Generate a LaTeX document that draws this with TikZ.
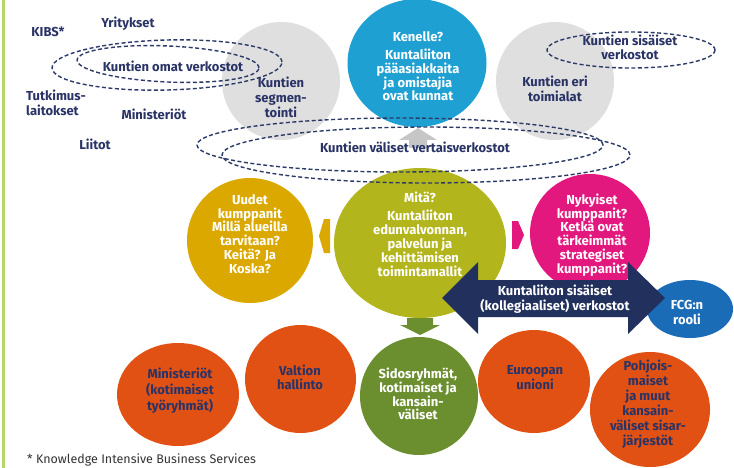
\documentclass[tikz,border=0pt]{standalone}
\usepackage{fontspec}
\setmainfont{Fira Sans}
\usetikzlibrary{shapes.geometric}
\definecolor{navytxt}{HTML}{2A3366}
\definecolor{dashc}{HTML}{2C3A68}
\definecolor{greyc}{HTML}{DFDFDF}
\definecolor{greyarr}{HTML}{C6C6C6}
\definecolor{kblue}{HTML}{1FA0D2}
\definecolor{olive}{HTML}{B3B51C}
\definecolor{gold}{HTML}{DBA800}
\definecolor{magent}{HTML}{E3187F}
\definecolor{arrnavy}{HTML}{22305E}
\definecolor{fcgblue}{HTML}{1B6CB6}
\definecolor{grn}{HTML}{6B8E2F}
\definecolor{orng}{HTML}{E15114}
\definecolor{barc}{HTML}{B4D56B}
\definecolor{footc}{HTML}{333333}
\newcommand\lblfont{\fontsize{13}{13.8}\selectfont\bfseries}
\newcommand\lblwide{\fontsize{13}{15}\selectfont\bfseries}
\newcommand\footfont{\fontsize{12.5}{14}\selectfont}
\tikzset{
  blob/.style={ellipse, inner sep=0pt, draw=none},
  lbl/.style={font=\lblfont, text=navytxt, align=center, inner sep=0pt},
  wlbl/.style={font=\lblfont, text=white, align=center, inner sep=0pt},
  widesp/.style={font=\lblwide},
  dashell/.style={draw=dashc, line width=1.4pt, dash pattern=on 4pt off 2.5pt},
}
\begin{document}
\begin{tikzpicture}[x=1pt,y=-1pt]
\useasboundingbox (0,0) rectangle (734,468);
\fill[white] (0,0) rectangle (734,468);
\fill[barc] (2,0) rectangle (5,468);

% grey and blue top circles
\node[blob, fill=greyc, minimum width=118pt, minimum height=118pt] (seg) at (281,81) {};
\node[blob, fill=greyc, minimum width=118pt, minimum height=118pt] (eri) at (555,81) {};
\node[blob, fill=kblue, minimum width=139pt, minimum height=128pt] (kenelle) at (417,63) {};

% grey up arrow
\fill[greyarr] (418,128) -- (437,140) -- (427,140) -- (427,148) -- (409,148) -- (409,140) -- (399,140) -- cycle;

% middle row
\node[blob, fill=gold, minimum width=126pt, minimum height=125pt] (uudet) at (250,240.5) {};
\node[blob, fill=olive, minimum width=172pt, minimum height=150pt] (mita) at (420,243) {};
\node[blob, fill=magent, minimum width=120pt, minimum height=118pt] (nyk) at (590,233) {};
\node[blob, fill=fcgblue, minimum width=86pt, minimum height=58pt] (fcg) at (690,309) {};

% small arrows
\fill[gold] (330,219) -- (324,219) -- (319,236) -- (324,253) -- (330,253) -- cycle;
\fill[magent] (512,221) -- (518,221) -- (524,235) -- (518,249) -- (512,249) -- cycle;
\fill[grn] (407,318) -- (433,318) -- (433,325) -- (440,325) -- (420,335) -- (400,325) -- (407,325) -- cycle;

% bottom row
\node[blob, fill=orng, minimum width=122pt, minimum height=103pt] (minis) at (178,394.5) {};
\node[blob, fill=orng, minimum width=111pt, minimum height=108pt] (valtio) at (300.5,379) {};
\node[blob, fill=grn, minimum width=118pt, minimum height=118pt] (sidos) at (419,396) {};
\node[blob, fill=orng, minimum width=112pt, minimum height=103pt] (eu) at (534,381.5) {};
\node[blob, fill=orng, minimum width=120pt, minimum height=115pt] (pohj) at (650,409.5) {};

% navy double arrow
\fill[arrnavy] (442,298) -- (478,262) -- (478,280) -- (628,280) -- (628,262) -- (665,298) -- (628,334) -- (628,317) -- (478,317) -- (478,334) -- cycle;

% dashed ellipses
\draw[dashell, rotate around={1.5:(167,65)}] (167,65) ellipse [x radius=115pt, y radius=25pt];
\draw[dashell, rotate around={-2.5:(168,64)}] (168,64) ellipse [x radius=91pt, y radius=18pt];
\draw[dashell] (631,50) ellipse [x radius=84pt, y radius=18pt];
\draw[dashell] (400,145) ellipse [x radius=203pt, y radius=27pt];
\draw[dashell] (426,155) ellipse [x radius=204pt, y radius=28pt];

% navy labels
\node[lbl] (kibs) at (48,32) {KIBS*};
\node[lbl] (yri) at (128,24) {Yritykset};
\node[lbl, widesp, anchor=west, align=left] (tutk) at (26,102.5) {Tutkimus-\\laitokset};
\node[lbl] (mint1) at (154,114) {Ministeriöt};
\node[lbl] (liitot) at (95,144) {Liitot};
\node[lbl] (omat) at (173,66) {Kuntien omat verkostot};
\node[lbl, widesp] (segt) at (281,97) {Kuntien\\segmen-\\tointi};
\node[lbl, widesp] (erit) at (555,89) {Kuntien eri\\toimialat};
\node[lbl] (sist) at (630,47) {Kuntien sisäiset\\verkostot};
\node[lbl] (valt) at (415,147) {Kuntien väliset vertaisverkostot};

% white labels
\node[wlbl] (kent) at (418,66.5) {Kenelle?\\[4pt]Kuntaliiton\\pääasiakkaita\\ja omistajia\\ovat kunnat};
\node[wlbl] (mitat) at (420,234) {Mitä?\\[5pt]Kuntaliiton\\edunvalvonnan,\\palvelun ja\\kehittämisen\\toimintamallit};
\node[wlbl] (uudt) at (250,234) {Uudet\\kumppanit\\Millä alueilla\\tarvitaan?\\Keitä? Ja\\Koska?};
\node[wlbl] (nykt) at (592,235) {Nykyiset\\kumppanit?\\Ketkä ovat\\tärkeimmät\\strategiset\\kumppanit?};
\node[wlbl, widesp] (arrt) at (555,299.5) {Kuntaliiton sisäiset\\(kollegiaaliset) verkostot};
\node[wlbl, widesp] (fcgt) at (687,312.5) {FCG:n\\rooli};
\node[wlbl] (sidt) at (418,394) {Sidosryhmät,\\kotimaiset ja\\kansain-\\väliset};

% navy labels on orange
\node[lbl, widesp] (eut) at (535,377.5) {Euroopan\\unioni};
\node[lbl, widesp] (pht) at (648,404.5) {Pohjois-\\maiset\\ja muut\\kansain-\\väliset sisar-\\järjestöt};
\node[lbl, font=\fontsize{13}{16}\selectfont\bfseries] (mint) at (180,391) {Ministeriöt\\(kotimaiset\\työryhmät)};
\node[lbl] (vht) at (300,377) {Valtion\\hallinto};

% footnote
\node[font=\footfont, text=footc, anchor=west, inner sep=0pt] (fn) at (27,460) {* Knowledge Intensive Business Services};
\end{tikzpicture}
\end{document}
